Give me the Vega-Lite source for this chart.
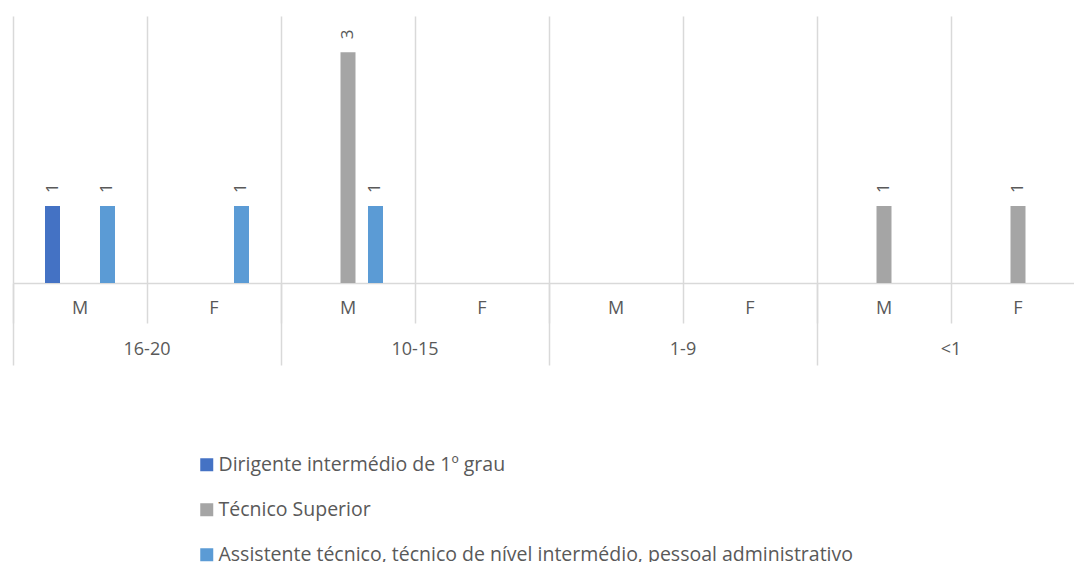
{
  "$schema": "https://vega.github.io/schema/vega-lite/v6.json",
  "autosize": {"type": "none"},
  "padding": {"left": 13, "top": 16, "right": 0, "bottom": 279},
  "width": 1061,
  "height": 267,
  "background": "white",
  "config": {
    "view": {"stroke": null},
    "font": "Open Sans"
  },
  "data": {
    "values": [
      {"grupo": "16-20", "cat": "16-20 M", "categoria": "Dirigente intermédio de 1º grau", "valor": 1},
      {"grupo": "16-20", "cat": "16-20 M", "categoria": "Assistente técnico, técnico de nível intermédio, pessoal administrativo", "valor": 1},
      {"grupo": "16-20", "cat": "16-20 F", "categoria": "Assistente técnico, técnico de nível intermédio, pessoal administrativo", "valor": 1},
      {"grupo": "10-15", "cat": "10-15 M", "categoria": "Técnico Superior", "valor": 3},
      {"grupo": "10-15", "cat": "10-15 M", "categoria": "Assistente técnico, técnico de nível intermédio, pessoal administrativo", "valor": 1},
      {"grupo": "<1", "cat": "<1 M", "categoria": "Técnico Superior", "valor": 1},
      {"grupo": "<1", "cat": "<1 F", "categoria": "Técnico Superior", "valor": 1}
    ]
  },
  "layer": [
    {
      "encoding": {
        "x": {
          "field": "cat", "type": "nominal",
          "scale": {
            "domain": ["16-20 M", "16-20 F", "10-15 M", "10-15 F", "1-9 M", "1-9 F", "<1 M", "<1 F"],
            "range": [0, 1072], "paddingInner": 0, "paddingOuter": 0
          },
          "axis": {
            "title": null, "labelAngle": 0,
            "labelExpr": "slice(datum.value, -1)",
            "domainColor": "#d9d9d9", "domainWidth": 1.5,
            "grid": true, "gridColor": "#d9d9d9", "gridWidth": 1.5,
            "bandPosition": 0,
            "ticks": true, "tickColor": "#d9d9d9", "tickWidth": 1.5, "tickSize": 40,
            "labelPadding": -24, "labelFontSize": 18, "labelColor": "#595959",
            "labelFont": "Open Sans"
          }
        },
        "xOffset": {
          "field": "categoria", "type": "nominal",
          "scale": {
            "domain": ["Dirigente intermédio de 1º grau", "Técnico Superior", "Assistente técnico, técnico de nível intermédio, pessoal administrativo"],
            "range": [32, 102],
            "paddingInner": 0.4545, "paddingOuter": 0
          }
        },
        "y": {
          "field": "valor", "type": "quantitative",
          "scale": {"domain": [0, 3.47], "nice": false},
          "axis": null
        }
      },
      "layer": [
        {
          "mark": {"type": "bar"},
          "encoding": {
            "color": {
              "field": "categoria", "type": "nominal",
              "scale": {
                "domain": ["Dirigente intermédio de 1º grau", "Técnico Superior", "Assistente técnico, técnico de nível intermédio, pessoal administrativo"],
                "range": ["#4472C4", "#A5A5A5", "#5B9BD5"]
              },
              "legend": {
                "title": null, "orient": "none", "direction": "vertical",
                "legendX": 184, "legendY": 439,
                "symbolType": "square", "symbolSize": 169, "symbolStrokeWidth": 0,
                "labelFontSize": 19.5, "labelColor": "#595959", "labelFont": "Open Sans",
                "labelLimit": 1000, "rowPadding": 24, "labelOffset": 2
              }
            }
          }
        },
        {
          "mark": {"type": "text", "angle": 270, "align": "left", "baseline": "middle", "dx": 13, "fontSize": 17, "color": "#595959", "font": "Open Sans"},
          "encoding": {
            "text": {"field": "valor", "type": "quantitative"}
          }
        }
      ]
    },
    {
      "mark": {"type": "bar", "opacity": 0},
      "encoding": {
        "x": {
          "field": "grupo", "type": "nominal",
          "scale": {
            "domain": ["16-20", "10-15", "1-9", "<1"],
            "range": [0, 1072], "paddingInner": 0, "paddingOuter": 0
          },
          "axis": {
            "title": null, "labelAngle": 0, "orient": "bottom", "offset": 0,
            "domain": false, "grid": false,
            "bandPosition": 0,
            "ticks": true, "tickColor": "#d9d9d9", "tickWidth": 1.5, "tickSize": 82,
            "labelPadding": -25, "labelFontSize": 18, "labelColor": "#595959",
            "labelFont": "Open Sans"
          }
        },
        "y": {"datum": 0, "type": "quantitative"}
      }
    }
  ],
  "resolve": {"scale": {"x": "independent"}, "axis": {"x": "independent"}}
}
